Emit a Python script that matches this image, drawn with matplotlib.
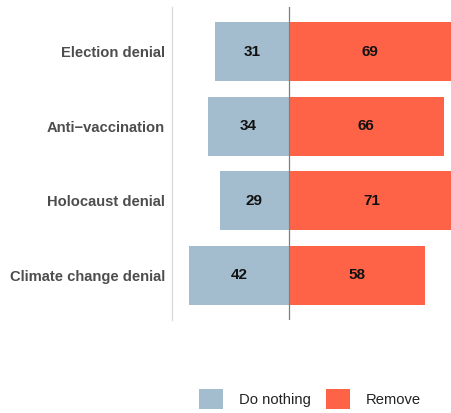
import matplotlib
matplotlib.use("Agg")
import matplotlib.pyplot as plt
from matplotlib.patches import Patch

# data
categories = ["Election denial", "Anti\u2212vaccination", "Holocaust denial", "Climate change denial"]
do_nothing = [31, 34, 29, 42]
remove = [69, 66, 71, 58]

blue = "#A3BDCF"
red = "#FF6347"

plt.rcParams["font.family"] = ["Liberation Sans", "DejaVu Sans"]

fig = plt.figure(figsize=(4.51, 4.13), dpi=100)
ax = fig.add_axes([172 / 451, 1 - 320 / 413, (451 - 172) / 451, 313 / 413])

ypos = list(range(len(categories)))
ax.barh(ypos, [-v for v in do_nothing], height=0.79, color=blue, zorder=2)
ax.barh(ypos, remove, height=0.79, color=red, zorder=2)

# value labels centred in each bar
for y, dn, rm in zip(ypos, do_nothing, remove):
    ax.text(-dn / 2, y, str(dn), ha="center", va="center",
            fontsize=11, fontweight="bold", color="#111111", zorder=3)
    ax.text(rm / 2, y, str(rm), ha="center", va="center",
            fontsize=11, fontweight="bold", color="#111111", zorder=3)

ax.axvline(0, color="#7F7F7F", linewidth=0.9, zorder=3)

ax.set_xlim(-49.4, 68.9)
ax.set_ylim(3.6, -0.6)
ax.set_yticks(ypos)
ax.set_yticklabels(categories, fontsize=10.6, fontweight="bold", color="#4D4D4D")
ax.tick_params(axis="y", length=0, pad=5)
ax.set_xticks([])

for s in ["top", "right", "bottom"]:
    ax.spines[s].set_visible(False)
ax.spines["left"].set_color("#D9D9D9")
ax.spines["left"].set_linewidth(0.9)

handles = [Patch(facecolor=blue, label="Do nothing"),
           Patch(facecolor=red, label="Remove")]
fig.legend(handles=handles, loc="center", bbox_to_anchor=(310 / 451, 1 - 399 / 413),
           ncol=2, frameon=False, fontsize=10.6, handlelength=1.63, handleheight=1.63,
           handletextpad=1.08, columnspacing=1.05, labelcolor="#222222")

fig.savefig("out.png", dpi=100)
